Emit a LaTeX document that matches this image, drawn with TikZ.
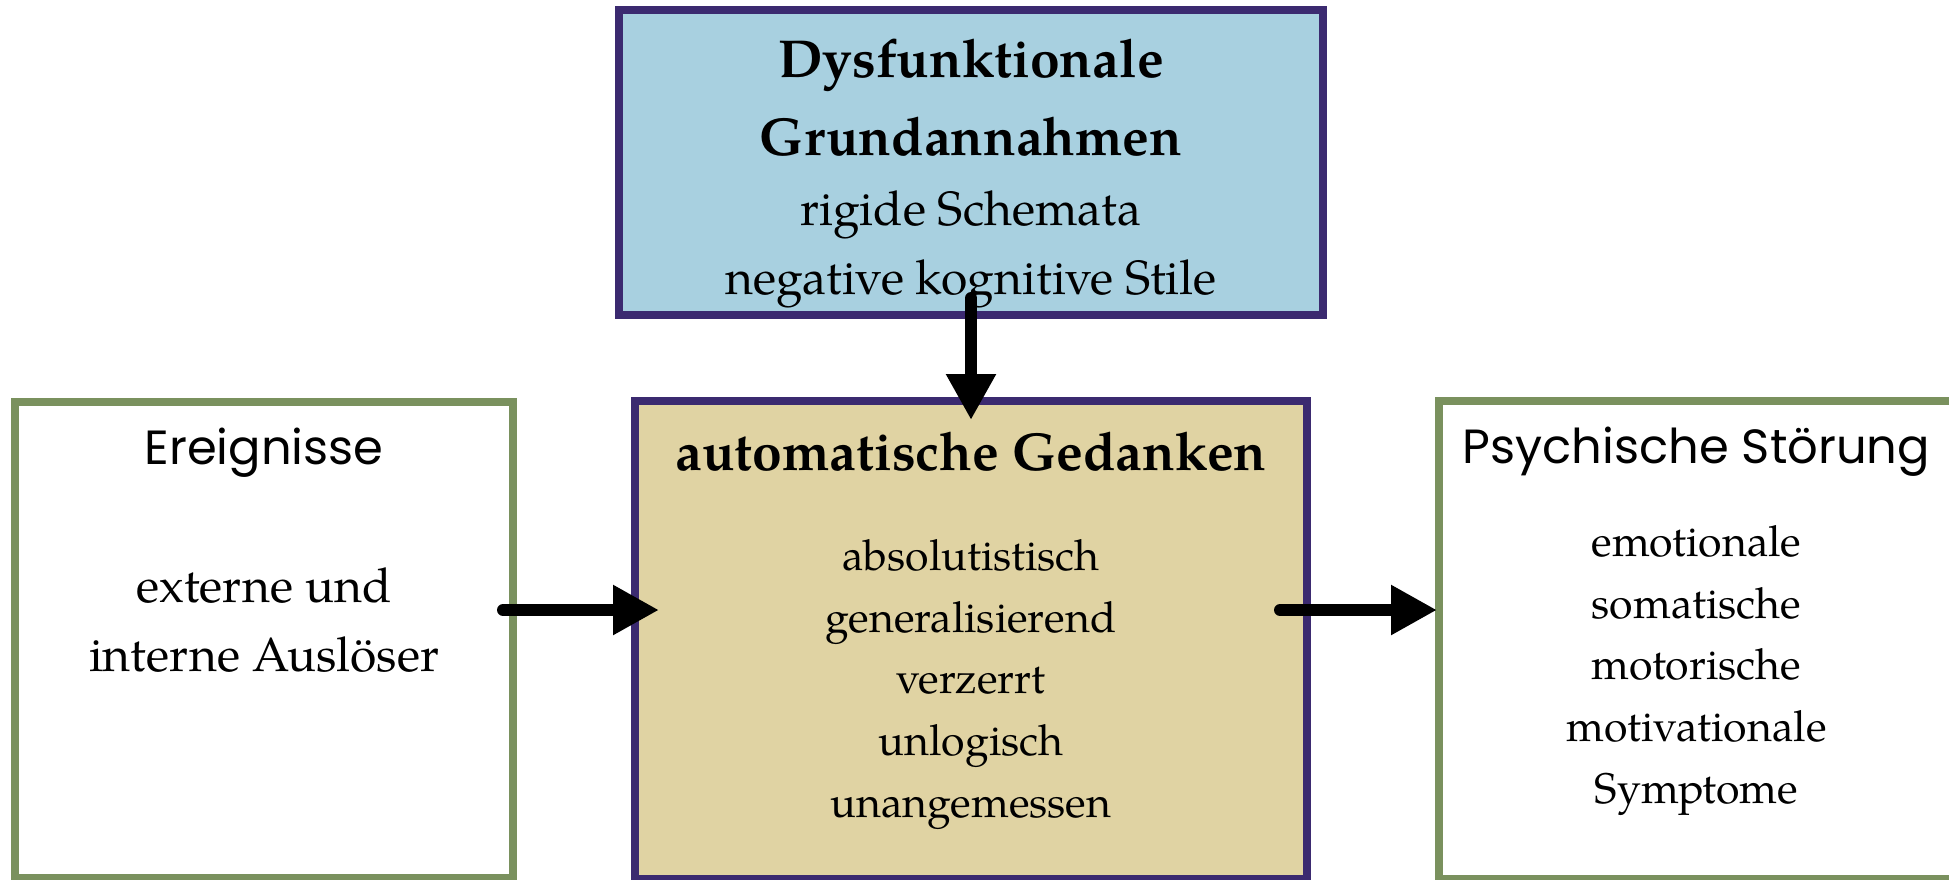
\documentclass[tikz,border=0pt]{standalone}
\usepackage{fontspec}
\setmainfont{TeX Gyre Pagella}
\setsansfont{Poppins}
\usetikzlibrary{positioning, arrows.meta}

\definecolor{rahmenlila}{RGB}{59,42,112}
\definecolor{rahmengruen}{RGB}{122,145,94}
\definecolor{hellblau}{RGB}{168,208,224}
\definecolor{sandgelb}{RGB}{224,211,163}

\begin{document}
\begin{tikzpicture}[>={Triangle[length=23pt,width=23.5pt]}]
        \tikzstyle{kasten}=[rectangle, line width=4pt, inner sep=0pt]
        \tikzstyle{fett}=[font=\fontsize{26.7}{39}\selectfont\bfseries, align=center, inner sep=0pt]
        \tikzstyle{gross}=[font=\fontsize{24}{34.5}\selectfont, align=center, inner sep=0pt]
        \tikzstyle{liste}=[font=\fontsize{21.4}{30.8}\selectfont, align=center, inner sep=0pt]
        \tikzstyle{kopf}=[font=\sffamily\fontsize{24}{28}\selectfont, inner sep=0pt]
        \tikzstyle{pfeil}=[->, line width=6pt, line cap=round]

        \useasboundingbox (0,0) rectangle (974.5pt,-439.5pt);
        \clip (0,0) rectangle (974.5pt,-439.5pt);

        % Kaesten
        \node[kasten, draw=rahmenlila, fill=sandgelb, minimum width=336pt, minimum height=239pt] (gedanken) at (485.5pt,-320pt) {};
        \node[kasten, draw=rahmenlila, fill=hellblau, minimum width=352pt, minimum height=152.5pt, above=39pt of gedanken] (grundannahmen) {};
        \node[kasten, draw=rahmengruen, minimum width=249pt, minimum height=238pt, left=57pt of gedanken] (ereignisse) {};
        \node[kasten, draw=rahmengruen, minimum width=257.5pt, minimum height=239pt, right=62pt of gedanken] (stoerung) {};

        % Texte (base = Grundlinie der letzten Zeile)
        \node[fett, anchor=base] (grundtitel) at ([yshift=-74.5pt]grundannahmen.north) {Dysfunktionale\\Grundannahmen};
        \node[gross, anchor=base] (grundtext) at ([yshift=-144pt]grundannahmen.north) {rigide Schemata\\negative kognitive Stile};
        \node[kopf, anchor=base] (ereignistitel) at ([yshift=-33pt]ereignisse.north) {Ereignisse};
        \node[gross, anchor=base] (ereignistext) at ([yshift=-136.5pt]ereignisse.north) {externe und\\interne Auslöser};
        \node[fett, anchor=base] (gedankentitel) at ([yshift=-36.5pt]gedanken.north) {automatische Gedanken};
        \node[liste, anchor=base] (gedankentext) at ([yshift=-210pt]gedanken.north) {absolutistisch\\generalisierend\\verzerrt\\unlogisch\\unangemessen};
        \node[kopf, anchor=base] (stoerungtitel) at ([yshift=-33pt]stoerung.north) {Psychische Störung};
        \node[liste, anchor=base] (stoerungtext) at ([yshift=-203pt]stoerung.north) {emotionale\\somatische\\motorische\\motivationale\\Symptome};

        % Pfeile
        \draw[pfeil] ([yshift=10.5pt]grundannahmen.south) -- ([yshift=-11.5pt]gedanken.north);
        \draw[pfeil] ([xshift=-7pt,yshift=15pt]ereignisse.east) -- ([xshift=14pt,yshift=15pt]gedanken.west);
        \draw[pfeil] ([xshift=-15.5pt,yshift=15pt]gedanken.east) -- ([xshift=1pt,yshift=15pt]stoerung.west);
\end{tikzpicture}
\end{document}
